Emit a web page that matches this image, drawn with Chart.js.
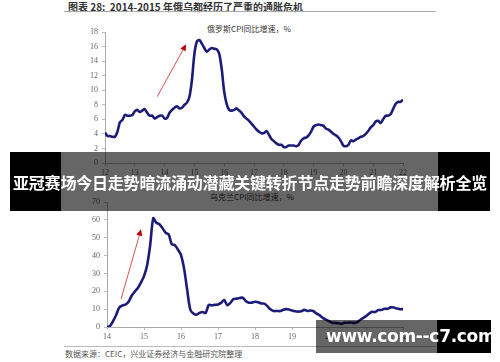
<!DOCTYPE html>
<html>
<head>
<meta charset="utf-8">
<script src="https://cdn.jsdelivr.net/npm/chart.js@4.4.1/dist/chart.umd.min.js"></script>
<style>
  body { margin: 0; background: #fff; width: 500px; height: 362px; overflow: hidden; position: relative; font-family: "Noto Sans CJK SC", sans-serif; }
  .abs { position: absolute; }
  #title { left: 68px; top: -1px; font-size: 10px; font-weight: bold; color: #333; font-family: "Noto Sans CJK SC", serif; }
  #topline { left: 64px; top: 11px; width: 372px; height: 1px; background: #aaa; }
  #botline { left: 64px; top: 346px; width: 372px; height: 1px; background: #bbb; }
  #source { left: 65px; top: 348px; font-size: 8px; color: #555; }
  .ctitle { font-size: 8px; color: #333; width: 200px; text-align: center; }
  #banner { left: 10px; top: 152px; width: 480px; height: 59px; }
  #banner .side { position: absolute; top: 0; height: 59px; background: #000; }
  #banner .mid { position: absolute; top: 0; height: 59px; left: 51px; width: 377px; background: rgba(0,0,0,0.6); }
  #banner .txt { position: absolute; left: 0; width: 480px; top: 18px; text-align: center; color: #fff; font-size: 16px; font-weight: bold; white-space: nowrap; letter-spacing: -0.2px; }
  #wm { left: 316px; top: 320px; width: 175px; height: 33px; }
  #wm .g { position: absolute; left: 0; top: 0; width: 121px; height: 33px; background: rgba(0,0,0,0.6); }
  #wm .b { position: absolute; left: 121px; top: 0; width: 54px; height: 33px; background: #000; }
  #wm .txt { position: absolute; left: 10px; top: 6px; color: #fff; font: bold 17px "DejaVu Sans", sans-serif; white-space: nowrap; letter-spacing: -0.3px; }
</style>
</head>
<body>
<div id="title" class="abs">图表 28:&nbsp; 2014-2015 年俄乌都经历了严重的通胀危机</div>
<div id="topline" class="abs"></div>
<div class="abs ctitle" style="left:149px; top:23px;">俄罗斯CPI同比增速，%</div>
<canvas id="ruChart" class="abs" style="left:0; top:20px;" width="500" height="160"></canvas>
<div class="abs ctitle" style="left:152px; top:191px;">乌克兰CPI同比增速，%</div>
<canvas id="uaChart" class="abs" style="left:0; top:190px;" width="500" height="155"></canvas>
<div id="botline" class="abs"></div>
<div id="source" class="abs">数据来源：CEIC，兴业证券经济与金融研究院整理</div>

<div id="banner" class="abs">
  <div class="side" style="left:0; width:51px;"></div>
  <div class="mid"></div>
  <div class="side" style="left:428px; width:52px;"></div>
  <div class="txt">亚冠赛场今日走势暗流涌动潜藏关键转折节点走势前瞻深度解析全览</div>
</div>
<div id="wm" class="abs">
  <div class="g"></div>
  <div class="b"></div>
  <div class="txt">www.com--c7.com</div>
</div>

<script>
// Russia CPI yoy, monthly from Jan 2012 to Jan 2022
var ruStart = 12;
var ruCpi = [
  4.2, 3.7, 3.7, 3.6, 3.6, 4.3, 5.6, 5.9, 6.6, 6.5, 6.5, 6.6,
  7.1, 7.3, 7.0, 7.2, 7.4, 6.9, 6.5, 6.5, 6.1, 6.3, 6.5, 6.5,
  6.1, 6.2, 6.9, 7.3, 7.6, 7.8, 7.5, 7.6, 8.0, 8.3, 9.1, 11.4,
  15.0, 16.7, 16.9, 16.4, 15.8, 15.3, 15.6, 15.8, 15.7, 15.6, 15.0, 12.9,
  9.8, 8.1, 7.3, 7.2, 7.3, 7.5, 7.2, 6.9, 6.4, 6.1, 5.8, 5.4,
  5.0, 4.6, 4.3, 4.1, 4.1, 4.4, 3.9, 3.3, 3.0, 2.7, 2.5, 2.5,
  2.2, 2.2, 2.4, 2.4, 2.4, 2.3, 2.5, 3.1, 3.4, 3.5, 3.8, 4.3,
  5.0, 5.2, 5.3, 5.2, 5.1, 4.7, 4.6, 4.3, 4.0, 3.8, 3.5, 3.0,
  2.4, 2.3, 2.5, 3.1, 3.0, 3.2, 3.4, 3.6, 3.7, 4.0, 4.4, 4.9,
  5.2, 5.7, 5.8, 5.5, 6.0, 6.5, 6.5, 6.7, 7.4, 8.1, 8.4, 8.4,
  8.7
];

// Ukraine CPI yoy, monthly from Jan 2014 to Jan 2022
var uaStart = 14;
var uaCpi = [
  0.0, 0.6, 3.4, 6.9, 10.9, 12.0, 12.6, 14.2, 17.5, 19.8, 21.8, 24.9,
  28.5, 34.5, 45.8, 60.9, 58.4, 57.5, 55.3, 52.8, 51.9, 46.4, 45.8, 43.3,
  40.3, 32.7, 20.9, 9.8, 7.5, 6.9, 7.9, 8.4, 7.9, 12.4, 12.1, 12.4,
  12.6, 13.5, 15.1, 12.2, 13.5, 15.6, 15.9, 16.2, 16.4, 14.6, 13.6, 13.7,
  14.1, 13.9, 13.2, 13.1, 11.7, 9.9, 8.9, 9.0, 8.9, 9.5, 10.0, 9.8,
  9.2, 8.8, 8.6, 8.8, 9.6, 9.0, 9.2, 8.8, 7.5, 6.5, 5.1, 4.1,
  3.2, 2.4, 2.3, 2.1, 1.7, 2.4, 2.4, 2.5, 2.3, 2.6, 3.8, 5.0,
  6.1, 7.5, 8.5, 8.4, 9.5, 9.5, 10.2, 10.2, 11.0, 10.9, 10.3, 10.0,
  10.0
];

var ruTicksX = [12, 22];
var ruTicksY = [0, 18, 2];
var uaTicksX = [14, 22];
var uaTicksY = [0, 70, 10];

// arrows in data units: [x0, y0, x1, y1]
var ruArrow = [13.75, 9.1, 14.72, 16.3];
var uaArrow = [14.38, 15.6, 14.92, 54.7];

function toPoints(start, values) {
  var pts = [];
  for (var i = 0; i < values.length; i++) {
    pts.push({ x: start + i / 12, y: values[i] });
  }
  return pts;
}

var arrowPlugin = {
  id: 'arrow',
  afterDatasetsDraw: function(chart, args, opts) {
    var a = opts.coords;
    if (!a) return;
    var xs = chart.scales.x, ys = chart.scales.y;
    var x0 = xs.getPixelForValue(a[0]), y0 = ys.getPixelForValue(a[1]);
    var x1 = xs.getPixelForValue(a[2]), y1 = ys.getPixelForValue(a[3]);
    var ctx = chart.ctx;
    var ang = Math.atan2(y1 - y0, x1 - x0);
    ctx.save();
    ctx.strokeStyle = '#d9534f';
    ctx.lineWidth = 1;
    ctx.beginPath();
    ctx.moveTo(x0, y0);
    ctx.lineTo(x1 - 5 * Math.cos(ang), y1 - 5 * Math.sin(ang));
    ctx.stroke();
    ctx.fillStyle = '#c00000';
    ctx.beginPath();
    ctx.moveTo(x1, y1);
    ctx.lineTo(x1 - 7 * Math.cos(ang - 0.45), y1 - 7 * Math.sin(ang - 0.45));
    ctx.lineTo(x1 - 7 * Math.cos(ang + 0.45), y1 - 7 * Math.sin(ang + 0.45));
    ctx.closePath();
    ctx.fill();
    ctx.restore();
  }
};

function makeChart(id, data, start, tx, ty, arrow, pad) {
  return new Chart(document.getElementById(id), {
    type: 'line',
    data: {
      datasets: [{
        data: toPoints(start, data),
        borderColor: '#1c1c78',
        borderWidth: 2.6,
        pointRadius: 0,
        tension: 0.3,
        fill: false
      }]
    },
    options: {
      responsive: false,
      animation: false,
      layout: { padding: pad },
      plugins: {
        legend: { display: false },
        tooltip: { enabled: false },
        arrow: { coords: arrow }
      },
      scales: {
        x: {
          type: 'linear',
          min: tx[0],
          max: tx[1],
          afterFit: function(s) { s.height = 14; },
          ticks: {
            stepSize: 1,
            maxRotation: 0,
            padding: 2,
            color: '#666',
            font: { family: 'Liberation Serif', size: 8 }
          },
          grid: { drawOnChartArea: false, drawTicks: true, tickLength: 3, color: '#bbb' },
          border: { color: '#aaa' }
        },
        y: {
          min: ty[0],
          max: ty[1],
          afterFit: function(s) { s.width = 40; },
          ticks: {
            stepSize: ty[2],
            padding: 4,
            color: '#666',
            font: { family: 'Liberation Serif', size: 8 }
          },
          grid: { drawOnChartArea: false, drawTicks: true, tickLength: 3, color: '#bbb' },
          border: { color: '#aaa' }
        }
      }
    },
    plugins: [arrowPlugin]
  });
}

makeChart('ruChart', ruCpi, ruStart, ruTicksX, ruTicksY, ruArrow, { left: 65, right: 97, top: 12, bottom: 3 });
makeChart('uaChart', uaCpi, uaStart, uaTicksX, uaTicksY, uaArrow, { left: 67, right: 97, top: 12, bottom: 4 });
</script>
</body>
</html>
